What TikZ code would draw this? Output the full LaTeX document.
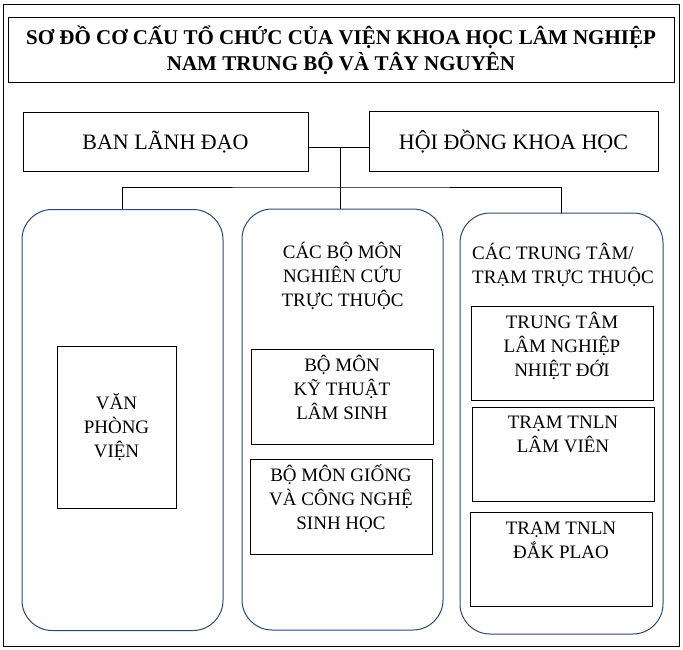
\documentclass[tikz,border=0pt]{standalone}
\usepackage{fontspec}
\setmainfont{Liberation Serif}
\usepackage{xcolor}
\usetikzlibrary{positioning}
\definecolor{colblue}{RGB}{44,71,112}

\begin{document}
\begin{tikzpicture}[x=1pt,y=-1pt,
		box/.style={draw, line width=1pt, inner sep=0pt, align=center},
		column/.style={draw=colblue, line width=1pt, rounded corners=30pt, minimum width=201pt, minimum height=421pt},
		txt/.style={inner sep=0pt, align=center, font=\fontsize{19}{24}\selectfont},
		link/.style={line width=0.8pt}]
		\useasboundingbox (0,0) rectangle (683,650);
		\draw[line width=1pt] (3,5) rectangle (679,646);
		
		% title and top boxes
		\node[box, minimum width=666pt, minimum height=65pt, font=\bfseries\fontsize{21}{26}\selectfont] (title) at (341,50.5) {SƠ ĐỒ CƠ CẤU TỔ CHỨC CỦA VIỆN KHOA HỌC LÂM NGHIỆP\\NAM TRUNG BỘ VÀ TÂY NGUYÊN};
		\node[box, minimum width=285pt, minimum height=59pt, font=\fontsize{22}{26}\selectfont] (lead) at (165.5,142.5) {BAN LÃNH ĐẠO};
		\node[box, minimum width=289pt, minimum height=60pt, font=\fontsize{22}{26}\selectfont] (council) at (513.5,142) {HỘI ĐỒNG KHOA HỌC};
		
		% columns
		\node[column] (office) at (122.5,420) {};
		\node[column] (dept) at (342.5,419.5) {};
		\node[column, minimum width=203pt] (centre) at (561.5,423.5) {};
		
		\coordinate (hub) at (340,147);
		\coordinate (bus) at (340,187);
		\draw[link] (lead.east |- hub) -- (council.west |- hub);
		\draw[link] (hub) -- (hub |- dept.north);
		\draw[link] (office.north) |- (bus) -| (centre.north);
		
		% office
		\node[box, txt, minimum width=119pt, minimum height=162pt] (hq) at (116.5,427) {VĂN\\PHÒNG\\VIỆN};
		
		% departments (base = last line)
		\node[txt, anchor=base] (dept text) at ([yshift=-98pt]dept.north) {CÁC BỘ MÔN\\NGHIÊN CỨU\\TRỰC THUỘC};
		\node[box, minimum width=182pt, minimum height=95pt] (silv) at (342,396.5) {};
		\node[txt, anchor=base] (silv text) at ([yshift=-71pt]silv.north) {BỘ MÔN\\KỸ THUẬT\\LÂM SINH};
		\node[box, minimum width=182pt, minimum height=95pt] (breed) at (341,506.5) {};
		\node[txt, anchor=base] (breed text) at ([yshift=-71pt]breed.north) {BỘ MÔN GIỐNG\\VÀ CÔNG NGHỆ\\SINH HỌC};
		
		% centres and stations
		\node[txt, align=left, anchor=base west] (centre text) at (472,283.5) {CÁC TRUNG TÂM/\\TRẠM TRỰC THUỘC};
		\node[box, minimum width=182pt, minimum height=94pt] (trop) at (562,353) {};
		\node[txt, anchor=base] (trop text) at ([yshift=-71pt]trop.north) {TRUNG TÂM\\LÂM NGHIỆP\\NHIỆT ĐỚI};
		\node[box, minimum width=182pt, minimum height=94pt] (lamvien) at (563,454) {};
		\node[txt, anchor=base] (lamvien text) at ([yshift=-46pt]lamvien.north) {TRẠM TNLN\\LÂM VIÊN};
		\node[box, minimum width=182pt, minimum height=94pt] (dakplao) at (561,559) {};
		\node[txt, anchor=base] (dakplao text) at ([yshift=-47pt]dakplao.north) {TRẠM TNLN\\ĐẮK PLAO};
\end{tikzpicture}
\end{document}
